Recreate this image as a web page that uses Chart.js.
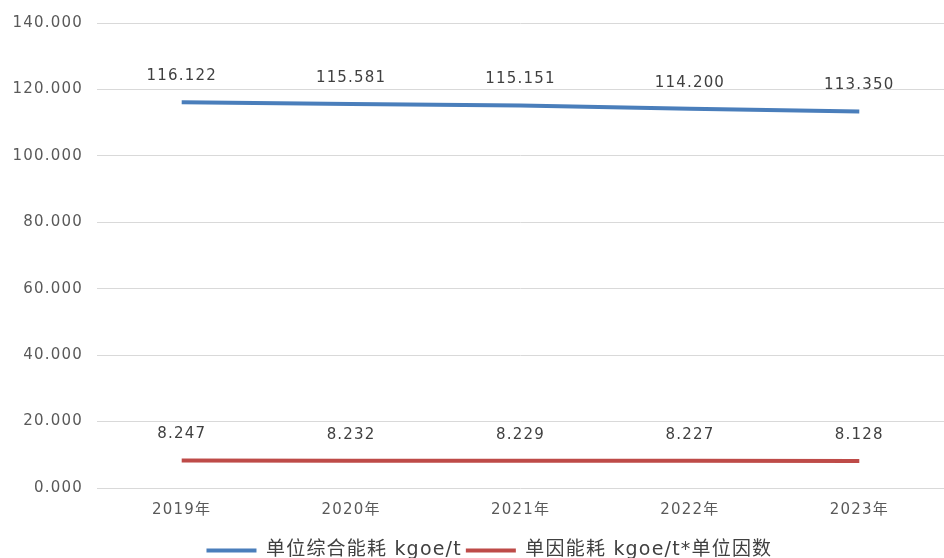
<!DOCTYPE html>
<html>
<head>
<meta charset="utf-8">
<script src="https://cdn.jsdelivr.net/npm/chart.js@4"></script>
<style>
html,body{margin:0;padding:0;background:#fff;}
canvas{display:block;}
</style>
</head>
<body>
<canvas id="c" width="944" height="558"></canvas>
<script>
const categories = ['2019年','2020年','2021年','2022年','2023年'];
const seriesNames = ['单位综合能耗 kgoe/t', '单因能耗 kgoe/t*单位因数'];
const totalEnergy = [116.122, 115.581, 115.151, 114.200, 113.350];
const unitEnergy = [8.247, 8.232, 8.229, 8.227, 8.128];
const yTicks = [0, 20, 40, 60, 80, 100, 120, 140];

const FONT = '"DejaVu Sans", "Noto Sans CJK SC", sans-serif';

const spacing = {
  id: 'spacing',
  beforeInit(chart){ try { chart.ctx.letterSpacing = '1.2px'; } catch(e){} },
  beforeDraw(chart){ try { chart.ctx.letterSpacing = '1.2px'; } catch(e){} }
};

const valueLabels = {
  id: 'valueLabels',
  afterDatasetsDraw(chart){
    const ctx = chart.ctx;
    chart.data.datasets.forEach((ds, i) => {
      const meta = chart.getDatasetMeta(i);
      meta.data.forEach((pt, j) => {
        ctx.save();
        ctx.font = '15px ' + FONT;
        ctx.fillStyle = '#404040';
        ctx.textAlign = 'center';
        ctx.textBaseline = 'middle';
        ctx.fillText(ds.data[j].toFixed(3), pt.x, pt.y - 26);
        ctx.restore();
      });
    });
  }
};

new Chart(document.getElementById('c'), {
  type: 'line',
  data: {
    labels: categories,
    datasets: [
      { label: seriesNames[0], data: totalEnergy, borderColor: '#4a7ebb', backgroundColor: '#4a7ebb', borderWidth: 4, pointRadius: 0, tension: 0 },
      { label: seriesNames[1], data: unitEnergy, borderColor: '#be4b48', backgroundColor: '#be4b48', borderWidth: 4, pointRadius: 0, tension: 0 }
    ]
  },
  options: {
    responsive: false,
    animation: false,
    layout: { padding: { top: 22, right: 0, bottom: -12, left: 0 } },
    scales: {
      x: {
        offset: true,
        grid: { display: false },
        border: { display: false },
        ticks: { padding: 5, color: '#595959', font: { family: FONT, size: 15 } },
        afterFit(s){ s.height = 49; }
      },
      y: {
        min: 0, max: 140,
        afterBuildTicks(s){ s.ticks = yTicks.map(v => ({ value: v })); },
        grid: { color: '#d9d9d9', drawTicks: false, lineWidth: 1 },
        border: { display: false },
        ticks: { padding: 14, color: '#595959', font: { family: FONT, size: 15 }, callback: v => Number(v).toFixed(3) },
        afterFit(s){ s.width = 97; }
      }
    },
    plugins: {
      legend: {
        position: 'bottom',
        labels: { usePointStyle: true, pointStyle: 'line', pointStyleWidth: 50, padding: 4, color: '#404040', font: { family: FONT, size: 19 } }
      },
      tooltip: { enabled: false }
    }
  },
  plugins: [spacing, valueLabels]
});
</script>
</body>
</html>
